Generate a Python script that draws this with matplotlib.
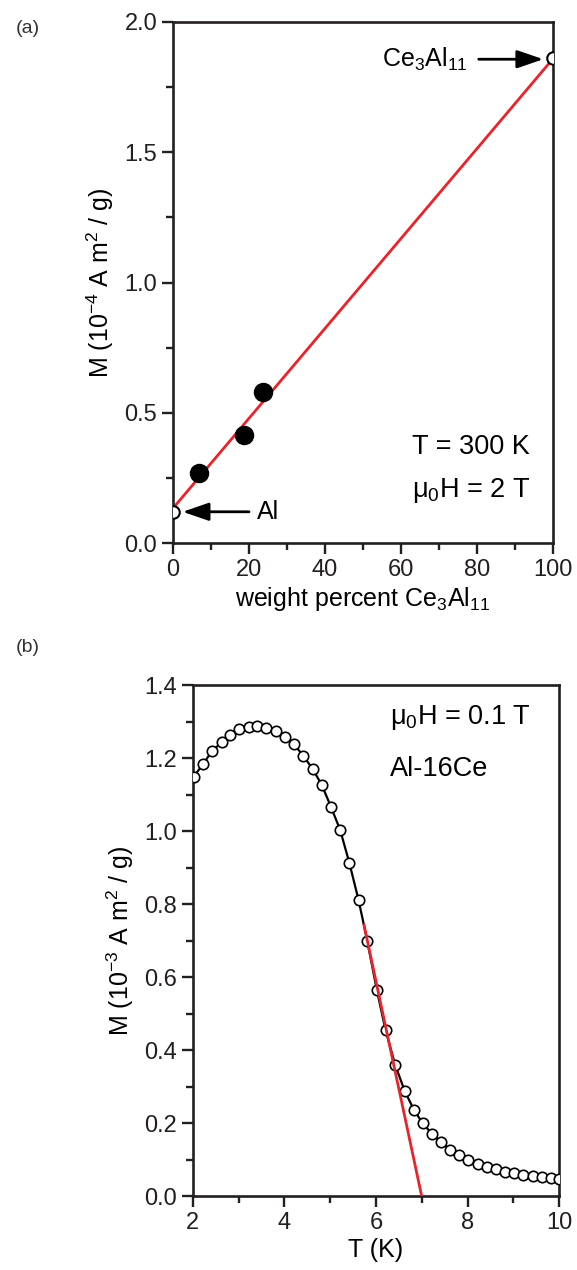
import matplotlib
matplotlib.use("Agg")
import matplotlib.pyplot as plt
from matplotlib.ticker import MultipleLocator, FormatStrFormatter

plt.rcParams['font.family'] = ['Liberation Sans', 'DejaVu Sans']
plt.rcParams['mathtext.default'] = 'regular'

# ---------------- data, panel (a) ----------------
wt_filled = [6.8, 18.8, 23.8]
M_filled = [0.268, 0.415, 0.58]
wt_ends = [0, 100]
M_ends = [0.12, 1.86]
fit_a_x = [0, 100]
fit_a_y = [0.134, 1.858]

# ---------------- data, panel (b) ----------------
T = [2.02, 2.23, 2.42, 2.63, 2.82, 3.01, 3.22, 3.41, 3.61, 3.81, 4.01,
     4.21, 4.41, 4.62, 4.82, 5.02, 5.22, 5.42, 5.62, 5.81, 6.02, 6.21,
     6.42, 6.63, 6.83, 7.02, 7.22, 7.42, 7.62, 7.82, 8.02, 8.22, 8.42,
     8.62, 8.82, 9.02, 9.22, 9.42, 9.62, 9.82, 10.0]
M = [1.149, 1.184, 1.219, 1.243, 1.263, 1.279, 1.286, 1.288, 1.283, 1.274,
     1.258, 1.238, 1.207, 1.170, 1.126, 1.066, 1.003, 0.913, 0.812, 0.700,
     0.565, 0.455, 0.360, 0.288, 0.237, 0.200, 0.172, 0.148, 0.128, 0.112,
     0.099, 0.089, 0.081, 0.074, 0.068, 0.063, 0.059, 0.056, 0.053, 0.050,
     0.048]
fit_b_x = [5.74, 7.0]
fit_b_y = [0.743, 0.0]

red = '#e8232b'

fig = plt.figure(figsize=(5.77, 12.70), dpi=100)
ax1 = fig.add_axes([0.300, 0.5724, 0.658, 0.4103])
ax2 = fig.add_axes([0.334, 0.058, 0.635, 0.4026])


def style(ax):
    ax.tick_params(which='both', direction='out', top=False, right=False,
                   width=1.7, labelsize=17, colors='#231f20')
    ax.tick_params(which='major', length=8)
    ax.tick_params(which='minor', length=5)
    for s in ax.spines.values():
        s.set_linewidth(1.9)
        s.set_color('#231f20')


# ---- panel (a)
ax1.plot(fit_a_x, fit_a_y, '-', color=red, lw=2, zorder=2)
ax1.plot(wt_filled, M_filled, 'o', color='black', ms=13, zorder=3)
ax1.plot(wt_ends, M_ends, 'o', mfc='white', mec='black', mew=1.5, ms=9, zorder=3)
ax1.set_xlim(0, 100)
ax1.set_ylim(0, 2.0)
ax1.xaxis.set_major_locator(MultipleLocator(20))
ax1.xaxis.set_minor_locator(MultipleLocator(10))
ax1.yaxis.set_major_locator(MultipleLocator(0.5))
ax1.yaxis.set_minor_locator(MultipleLocator(0.25))
ax1.set_xlabel('weight percent Ce$_3$Al$_{11}$', fontsize=18, labelpad=3)
ax1.set_ylabel('M (10$^{-4}$ A m$^2$ / g)', fontsize=18, labelpad=6)
style(ax1)

arrow = dict(arrowstyle='-|>,head_length=1.6,head_width=0.55', color='black',
             lw=2, shrinkA=0, shrinkB=0)
ax1.annotate('', xy=(97.5, 1.857), xytext=(80.5, 1.857), arrowprops=arrow)
ax1.text(55, 1.857, 'Ce$_3$Al$_{11}$', fontsize=18, va='center', ha='left')
ax1.annotate('', xy=(2.5, 0.12), xytext=(20, 0.12), arrowprops=arrow)
ax1.text(22, 0.12, 'Al', fontsize=18, va='center', ha='left')
ax1.text(63, 0.37, 'T = 300 K', fontsize=19.5, va='center', ha='left')
ax1.text(63, 0.2, '$\\mu_0$H = 2 T', fontsize=19.5, va='center', ha='left')

# ---- panel (b)
ax2.plot(T, M, '-', color='black', lw=1.6, zorder=2)
ax2.plot(T, M, 'o', mfc='white', mec='black', mew=1.2, ms=7.5, zorder=3)
ax2.plot(fit_b_x, fit_b_y, '-', color=red, lw=2, zorder=4)
ax2.set_xlim(2, 10)
ax2.set_ylim(0, 1.4)
ax2.xaxis.set_major_locator(MultipleLocator(2))
ax2.xaxis.set_minor_locator(MultipleLocator(1))
ax2.yaxis.set_major_locator(MultipleLocator(0.2))
ax2.yaxis.set_minor_locator(MultipleLocator(0.1))
ax2.yaxis.set_major_formatter(FormatStrFormatter('%.1f'))
ax2.set_xlabel('T (K)', fontsize=18, labelpad=3)
ax2.set_ylabel('M (10$^{-3}$ A m$^2$ / g)', fontsize=18, labelpad=6)
style(ax2)
ax2.text(6.3, 1.31, '$\\mu_0$H = 0.1 T', fontsize=19.5, va='center', ha='left')
ax2.text(6.3, 1.17, 'Al-16Ce', fontsize=19.5, va='center', ha='left')

fig.text(0.028, 0.984, '(a)', fontsize=14, va='top', ha='left', color='#333333')
fig.text(0.028, 0.497, '(b)', fontsize=14, va='top', ha='left', color='#333333')

fig.savefig('out.png', dpi=100)
